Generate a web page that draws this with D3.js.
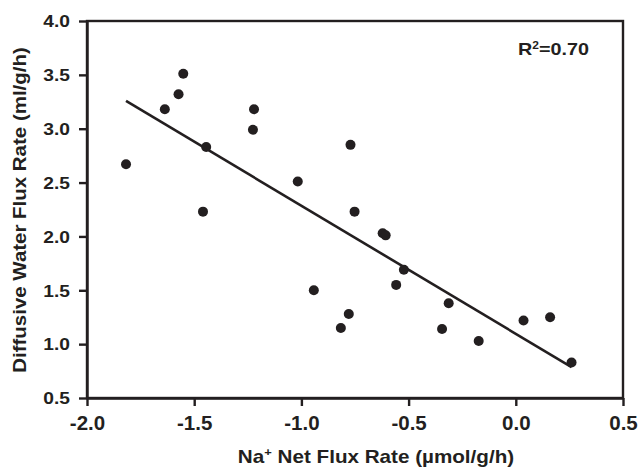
<!DOCTYPE html>
<html>
<head>
<meta charset="utf-8">
<script src="https://cdn.jsdelivr.net/npm/d3@7"></script>
<style>
  body { margin: 0; background: #fff; }
  text { font-family: "Liberation Sans", Arial, sans-serif; font-weight: bold; fill: #231f20; }
</style>
</head>
<body>
<svg width="640" height="470"></svg>
<script>
// Na+ net flux rate (x) vs diffusive water flux rate (y)
var naFlux    = [-1.818, -1.637, -1.573, -1.551, -1.444, -1.459, -1.221, -1.226, -1.017, -0.771,
                 -0.752, -0.621, -0.607, -0.522, -0.558, -0.942, -0.779, -0.816, -0.313, -0.344,
                 -0.173, 0.036, 0.160, 0.260];
var waterFlux = [2.67, 3.18, 3.32, 3.51, 2.83, 2.23, 3.18, 2.99, 2.51, 2.85,
                 2.23, 2.03, 2.01, 1.69, 1.55, 1.50, 1.28, 1.15, 1.38, 1.14,
                 1.03, 1.22, 1.25, 0.83];
// linear fit
var fitSlope = -1.189, fitIntercept = 1.096;
var xTicks = [-2.0, -1.5, -1.0, -0.5, 0.0, 0.5];
var yTicks = [0.5, 1.0, 1.5, 2.0, 2.5, 3.0, 3.5, 4.0];
var r2Label = "0.70";

var ink = "#231f20";
var svg = d3.select("svg"),
    margin = {top: 21, right: 17, bottom: 72, left: 87},
    width = +svg.attr("width") - margin.left - margin.right,
    height = +svg.attr("height") - margin.top - margin.bottom;

var x = d3.scaleLinear().domain([-2, 0.5]).range([0, width]);
var y = d3.scaleLinear().domain([0.5, 4]).range([height, 0]);
var fmt = function(d) { return d.toFixed(1); };  // plain hyphen, not unicode minus

var g = svg.append("g")
    .attr("transform", "translate(" + margin.left + "," + margin.top + ")");

// frame
g.append("rect")
    .attr("width", width).attr("height", height)
    .attr("fill", "none").attr("stroke", ink).attr("stroke-width", 2.4);

var xAxis = g.append("g")
    .attr("transform", "translate(0," + height + ")")
    .call(d3.axisBottom(x).tickValues(xTicks).tickSize(8).tickSizeOuter(0).tickFormat(fmt));
xAxis.selectAll("text")
    .attr("y", 32).attr("dy", null)
    .style("font-size", "20.5px");

var yAxis = g.append("g")
    .call(d3.axisLeft(y).tickValues(yTicks).tickSize(8).tickSizeOuter(0).tickFormat(fmt));
yAxis.selectAll("text")
    .attr("x", null).attr("dy", "0.36em")
    .attr("transform", "translate(-17,0) scale(1.2,1)")
    .style("font-size", "16px");

[xAxis, yAxis].forEach(function(a) {
  a.select(".domain").attr("stroke", ink).attr("stroke-width", 2.4);
  a.selectAll(".tick line").attr("stroke", ink).attr("stroke-width", 2.4);
  a.selectAll("text").attr("fill", ink).style("font-family", null);
});

// regression line
var ext = d3.extent(naFlux);
g.append("line")
    .attr("x1", x(ext[0])).attr("y1", y(fitIntercept + fitSlope * ext[0]))
    .attr("x2", x(ext[1])).attr("y2", y(fitIntercept + fitSlope * ext[1]))
    .attr("stroke", ink).attr("stroke-width", 2.6);

// points
g.selectAll("circle")
    .data(naFlux)
  .enter().append("circle")
    .attr("cx", function(d) { return x(d); })
    .attr("cy", function(d, i) { return y(waterFlux[i]); })
    .attr("r", 5)
    .attr("fill", ink);

// R squared
var r2 = svg.append("text")
    .attr("transform", "translate(518,55) scale(1.2,1)")
    .style("font-size", "16.5px");
r2.append("tspan").text("R");
r2.append("tspan").attr("dy", -6).style("font-size", "10px").text("2");
r2.append("tspan").attr("dy", 6).text("=" + r2Label);

// x title
var xt = svg.append("text")
    .attr("transform", "translate(376,463) scale(1.18,1)")
    .attr("text-anchor", "middle")
    .style("font-size", "17.5px");
xt.append("tspan").text("Na");
xt.append("tspan").attr("dy", -7).style("font-size", "11px").text("+");
xt.append("tspan").attr("dy", 7).text(" Net Flux Rate (\u00b5mol/g/h)");

// y title
svg.append("text")
    .attr("transform", "translate(26,210) rotate(-90) scale(1.17,1)")
    .attr("text-anchor", "middle")
    .style("font-size", "17.5px")
    .text("Diffusive Water Flux Rate (ml/g/h)");
</script>
</body>
</html>
